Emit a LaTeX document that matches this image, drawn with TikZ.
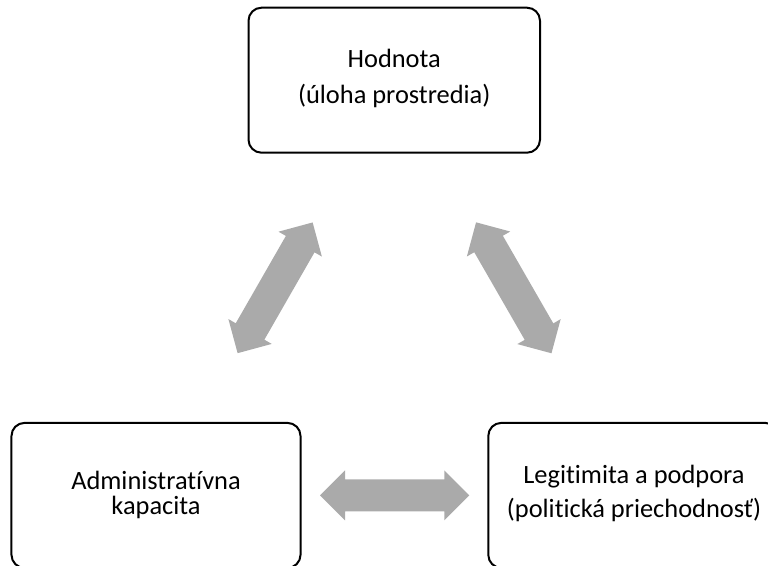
\documentclass[tikz,border=0pt]{standalone}
\usepackage{fontspec}
\setmainfont[Ligatures=NoCommon]{Carlito}
\usetikzlibrary{calc}
\definecolor{arrowgray}{RGB}{170,170,170}
\tikzset{
  box/.style={draw=black, line width=2bp, rounded corners=13bp,
    minimum width=#1, minimum height=145bp, inner sep=0pt, outer sep=0pt},
  lbl/.style={anchor=base, inner sep=0pt, font=\fontsize{26.4bp}{30bp}\selectfont},
  bigarrow/.style={fill=arrowgray, draw=none, to path={
    ($(\tikztostart)!164bp!(\tikztotarget)$)
    -- ($(\tikztostart)!189bp!(\tikztotarget)!25bp!90:(\tikztotarget)$)
    -- ($(\tikztostart)!189bp!(\tikztotarget)!#1!90:(\tikztotarget)$)
    -- ($(\tikztotarget)!189bp!(\tikztostart)!#1!-90:(\tikztostart)$)
    -- ($(\tikztotarget)!189bp!(\tikztostart)!25bp!-90:(\tikztostart)$)
    -- ($(\tikztotarget)!164bp!(\tikztostart)$)
    -- ($(\tikztotarget)!189bp!(\tikztostart)!25bp!90:(\tikztostart)$)
    -- ($(\tikztotarget)!189bp!(\tikztostart)!#1!90:(\tikztostart)$)
    -- ($(\tikztostart)!189bp!(\tikztotarget)!#1!-90:(\tikztotarget)$)
    -- ($(\tikztostart)!189bp!(\tikztotarget)!25bp!-90:(\tikztotarget)$)
    -- cycle}},
  bigarrow/.default=16.5bp
}
\begin{document}
\begin{tikzpicture}[x=1bp,y=-1bp]
\useasboundingbox (0,0) rectangle (768,566);
\node[box=291.5bp] (top) at (394.25,80.2) {};
\node[box=289bp] (left) at (156,495.4) {};
\node[box=290bp] (right) at (633.3,495.4) {};
\node[lbl] (t1) at (394.25,68) {Hodnota};
\node[lbl] (t2) at (394.25,104) {(úloha prostredia)};
\node[lbl] (l1) at (156,489) {Administratívna};
\node[lbl] (l2) at (156,514.5) {kapacita};
\node[lbl] (r1) at (634,483) {Legitimita a podpora};
\node[lbl] (r2) at (634,517) {(politická priechodnosť)};
\path[bigarrow] (top.center) to (left.center);
\path[bigarrow] (top.center) to (right.center);
\path[bigarrow=16bp] (left.center) to (right.center);
\end{tikzpicture}
\end{document}
